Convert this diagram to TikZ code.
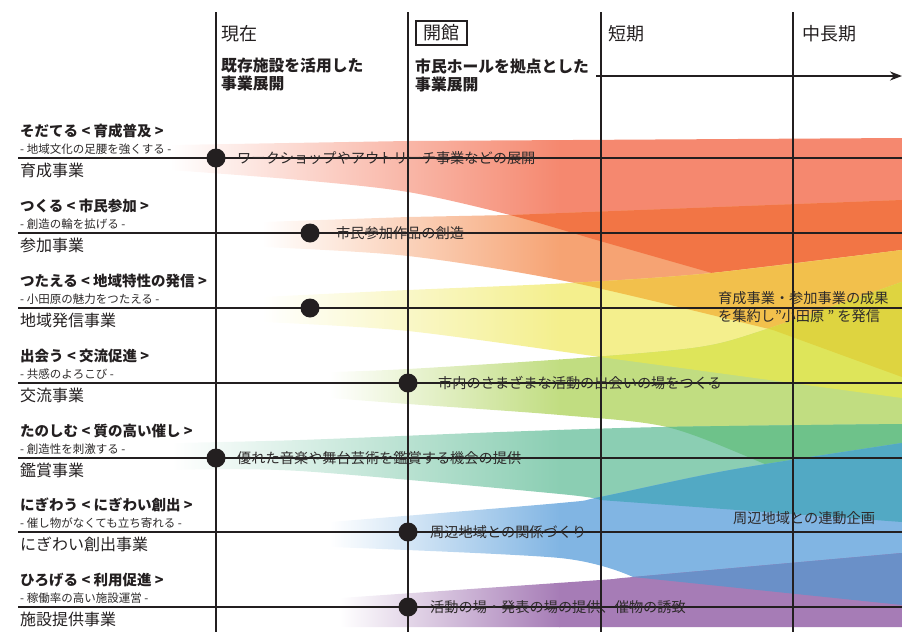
\documentclass[tikz,border=0pt]{standalone}
\usepackage{fontspec}
\setmainfont{Noto Sans CJK JP}
\usetikzlibrary{arrows.meta}
\definecolor{LineBlack}{RGB}{35,31,32}
\definecolor{TextGray}{RGB}{45,42,42}
\definecolor{IkuseiRed}{RGB}{245,136,111}
\definecolor{SankaPeach}{RGB}{246,163,115}
\definecolor{SankaDeep}{RGB}{242,117,69}
\definecolor{HasshinYellow}{RGB}{244,239,141}
\definecolor{MixOrange}{RGB}{242,192,76}
\definecolor{MixOlive}{RGB}{222,212,64}
\definecolor{MixLime}{RGB}{222,229,90}
\definecolor{KoryuGreen}{RGB}{193,221,129}
\definecolor{MixGreen}{RGB}{110,194,138}
\definecolor{KanshoMint}{RGB}{139,206,179}
\definecolor{MixTeal}{RGB}{82,169,196}
\definecolor{NigiwaiBlue}{RGB}{129,181,227}
\definecolor{MixNavy}{RGB}{106,144,200}
\definecolor{ShisetsuPurple}{RGB}{166,124,182}
\tikzset{%
  grid lines/.style={line width=1.2pt, color=LineBlack},
  now line/.style={line width=2pt, color=LineBlack},
  dot/.style={circle, fill=LineBlack, minimum size=19pt, inner sep=0pt},
  band label/.style={anchor=west, inner sep=0pt, text=TextGray, font=\fontsize{14.2}{18}\selectfont, align=left},
  phase label/.style={anchor=west, inner sep=0pt, text=LineBlack, font=\fontsize{18}{20}\selectfont},
  plan label/.style={anchor=west, inner sep=0pt, text=LineBlack, align=left, font=\fontsize{15.8}{18}\selectfont\bfseries},
  row title/.style={anchor=west, inner sep=0pt, text=LineBlack, font=\fontsize{14.5}{16}\selectfont\bfseries},
  row sub/.style={anchor=west, inner sep=0pt, text=TextGray, font=\fontsize{11.5}{13}\selectfont},
  row name/.style={anchor=west, inner sep=0pt, text=LineBlack, font=\fontsize{16}{18}\selectfont}
}
% band outlines (pixel coordinates, y downwards)
\newcommand*{\BandA}{(170,145) -- (408,141) -- (902,138) -- (902,250) -- plot[smooth] coordinates {(712,273) (600,241) (510,215) (408,192) (300,180) (170,170)} -- cycle}
\newcommand*{\BandB}{(262,222) -- (408,217) -- (510,215) -- (902,200) -- (902,377) -- plot[smooth] coordinates {(773,330) (570,282) (408,256) (262,247)} -- cycle}
\newcommand*{\BandC}{plot[smooth] coordinates {(262,297) (408,290) (570,283) (712,273) (902,250)} -- (902,398) -- plot[smooth] coordinates {(600,357) (408,331) (262,322)} -- cycle}
\newcommand*{\BandD}{plot[smooth] coordinates {(330,372) (408,369) (580,358) (700,347) (767,329) (902,282)} -- (902,520) -- plot[smooth] coordinates {(820,490) (760,462) (667,427) (560,415) (408,404) (330,398)} -- cycle}
\newcommand*{\BandE}{plot[smooth] coordinates {(172,443) (300,440) (500,432) (663,427) (902,424)} -- (902,522) -- plot[smooth] coordinates {(600,500) (560,494) (300,471) (172,470)} -- cycle}
\newcommand*{\BandF}{plot[smooth] coordinates {(330,522) (560,503) (600,497) (730,470) (902,443)} -- (902,605) -- plot[smooth] coordinates {(633,577) (560,558) (330,547)} -- cycle}
\newcommand*{\BandG}{plot[smooth] coordinates {(340,598) (600,580) (633,577) (902,553)} -- (902,627) -- (340,627) -- cycle}
% #1 band, #2 colour, #3 start of fade, #4/#5 vertical extent
\newcommand*{\FillBand}[5]{%
  \begin{scope}
    \clip #1;
    \shade[left color=white, right color=#2] (#3,#4) rectangle (560,#5);
    \fill[#2] (559,#4) rectangle (903,#5);
  \end{scope}}

\begin{document}
\begin{tikzpicture}[x=1pt,y=-1pt]
  \useasboundingbox (0,0) rectangle (902,632);
  % Bands, top group:
  \FillBand{\BandA}{IkuseiRed}{170}{130}{280}
  \FillBand{\BandB}{SankaPeach}{262}{195}{380}
  \begin{scope} \clip \BandA; \fill[SankaDeep] \BandB; \end{scope}
  \FillBand{\BandC}{HasshinYellow}{262}{245}{400}
  \begin{scope} \clip \BandB; \fill[MixOrange] \BandC; \end{scope}
  \FillBand{\BandD}{KoryuGreen}{330}{275}{535}
  \begin{scope} \clip \BandC; \fill[MixLime] \BandD; \end{scope}
  \begin{scope} \clip \BandB; \clip \BandC; \fill[MixOlive] \BandD; \end{scope}
  % Bands, bottom group:
  \FillBand{\BandE}{KanshoMint}{172}{420}{525}
  \begin{scope} \clip \BandD; \fill[MixGreen] \BandE; \end{scope}
  \FillBand{\BandF}{NigiwaiBlue}{330}{440}{610}
  \begin{scope} \clip \BandE; \fill[MixTeal] \BandF; \end{scope}
  \FillBand{\BandG}{ShisetsuPurple}{340}{550}{630}
  \begin{scope} \clip \BandF; \fill[MixNavy] \BandG; \end{scope}

  % Grid:
  \foreach \x in {216,601,793} {
    \draw[grid lines] (\x,12) -- (\x,632);
  }
  \draw[now line] (408,12) -- (408,632);
  \draw[line width=2.2pt, color=LineBlack, -{Stealth[length=12pt,width=9pt]}] (596,76) -- (902,76);

  % Rows:
  \foreach \y/\rtitle/\rsub/\rname in {%
      158/そだてる < 育成普及 >/地域文化の足腰を強くする/育成事業,
      233/つくる < 市民参加 >/創造の輪を拡げる/参加事業,
      308/つたえる < 地域特性の発信 >/小田原の魅力をつたえる/地域発信事業,
      383/出会う < 交流促進 >/共感のよろこび/交流事業,
      458/たのしむ < 質の高い催し >/創造性を刺激する/鑑賞事業,
      532/にぎわう < にぎわい創出 >/催し物がなくても立ち寄れる/にぎわい創出事業,
      607/ひろげる < 利用促進 >/稼働率の高い施設運営/施設提供事業} {
    \draw[grid lines] (18,\y) -- (902,\y);
    \node[row title] (title\y) at (20,\y-27) {\rtitle};
    \node[row sub] (sub\y) at (20,\y-9) {- \rsub\ -};
    \node[row name] (name\y) at (20,\y+12) {\rname};
  }

  % Phases:
  \node[phase label] (now) at (221,34) {現在};
  \node[phase label, draw=LineBlack, line width=1.8pt, inner xsep=7.5pt, inner ysep=3.5pt] (open) at (415,33) {開館};
  \node[phase label] (short) at (608,34) {短期};
  \node[phase label] (long) at (802,34) {中長期};
  \node[plan label] (planNow) at (221,75) {既存施設を活用した\\事業展開};
  \node[plan label] (planOpen) at (415,75) {市民ホールを拠点とした\\事業展開};

  % Milestones:
  \node[dot] (dotA) at (216,158) {};
  \node[dot] (dotB) at (310,233) {};
  \node[dot] (dotC) at (310,308) {};
  \node[dot] (dotD) at (408,383) {};
  \node[dot] (dotE) at (216,458) {};
  \node[dot] (dotF) at (408,532) {};
  \node[dot] (dotG) at (408,607) {};
  \node[band label] (textA) at (237,158) {ワークショップやアウトリーチ事業などの展開};
  \node[band label] (textB) at (336,233) {市民参加作品の創造};
  \node[band label] (textD) at (438,383) {市内のさまざまな活動の出会いの場をつくる};
  \node[band label] (textE) at (237,458) {優れた音楽や舞台芸術を鑑賞する機会の提供};
  \node[band label] (textF) at (430,532) {周辺地域との関係づくり};
  \node[band label] (textG) at (430,607) {活動の場・発表の場の提供、催物の誘致};
  \node[band label] (resultC) at (718,307) {育成事業・参加事業の成果\\を集約し"小田原 " を発信};
  \node[band label] (resultF) at (733,518) {周辺地域との連動企画};
\end{tikzpicture}
\end{document}
